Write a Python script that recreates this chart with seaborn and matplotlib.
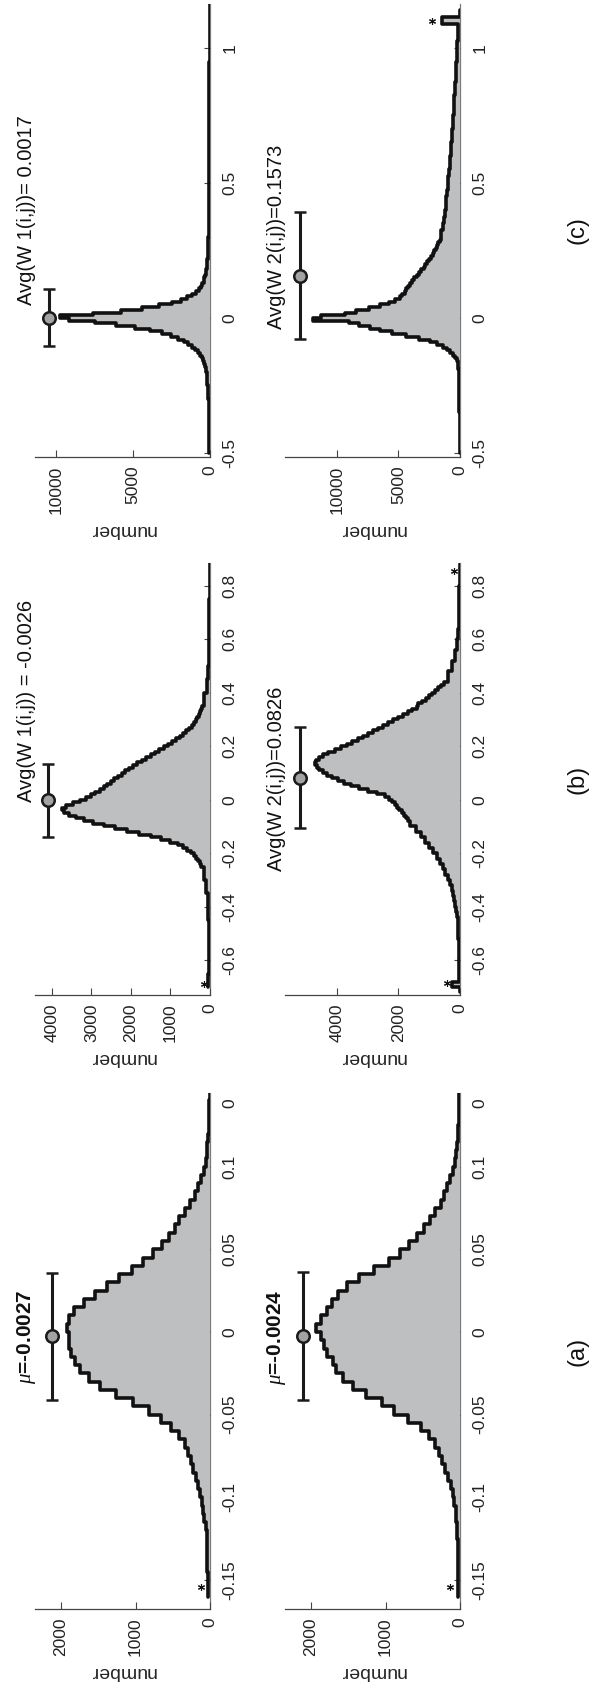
import numpy as np
import pandas as pd
import matplotlib
matplotlib.use("Agg")
import matplotlib.pyplot as plt
import matplotlib.transforms as mtrans
import seaborn as sns

# ---------------------------------------------------------------- data
# bin layouts: list of (start, stop, bin width) segments
a_bins = [(-0.16, 0.145, 0.005)]
a1_counts = [25, 30, 30, 35, 35, 40, 40, 45, 60, 75, 95, 110, 135, 160, 190,
             225, 255, 290, 340, 420, 520, 660, 820, 1040, 1260, 1480, 1630,
             1750, 1810, 1870, 1900, 1890, 1920, 1890, 1830, 1690, 1540, 1380,
             1220, 1050, 900, 760, 640, 550, 470, 410, 340, 270, 200, 155, 115,
             85, 60, 45, 34, 25, 18, 13, 10, 8, 6]
a2_counts = [25, 25, 25, 28, 30, 30, 32, 35, 40, 50, 60, 75, 100, 125, 160,
             195, 240, 280, 330, 410, 530, 700, 880, 1050, 1260, 1440, 1570,
             1670, 1700, 1790, 1830, 1870, 1930, 1870, 1790, 1720, 1640, 1520,
             1360, 1160, 960, 800, 680, 580, 480, 400, 330, 260, 210, 170, 130,
             95, 70, 50, 38, 30, 25, 20, 18, 15, 12]
a1_title, a2_title = r"$\mu$=-0.0027", r"$\mu$=-0.0024"
a1_mean, a1_sd = -0.0027, 0.0385
a2_mean, a2_sd = -0.0024, 0.0385
a_value_ticks = [-0.15, -0.1, -0.05, 0, 0.05, 0.1]
a_value_labels = ["-0.15", "-0.1", "-0.05", "0", "0.05", "0.1"]
a_count_ticks = [0, 1000, 2000]

b1_bins = [(-0.70, -0.25, 0.05), (-0.25, 0.35, 0.01), (0.35, 0.90, 0.05)]
b1_counts = [40, 20, 22, 26, 32, 42, 60, 95, 160,
             230, 265, 305, 350, 410, 480, 570, 680, 820, 1000, 1230, 1500,
             1800, 2100, 2400, 2680, 2950, 3180, 3400, 3580, 3700, 3740, 3650,
             3480, 3300, 3150, 3020, 2900, 2790, 2690, 2600, 2510, 2420, 2330,
             2240, 2150, 2050, 1950, 1840, 1730, 1620, 1500, 1390, 1280, 1170,
             1060, 960, 860, 770, 680, 600, 525, 455, 400, 360, 325, 290, 255,
             225, 195,
             140, 80, 45, 32, 25, 20, 16, 14, 12, 11, 10]
b2_bins = [(-0.72, -0.68, 0.02), (-0.68, -0.08, 0.02), (-0.08, 0.44, 0.01),
           (0.44, 0.88, 0.04)]
b2_counts = [0, 260,
             25, 27, 29, 31, 34, 37, 41, 45, 51, 58, 68, 80, 97, 120, 148, 180,
             222, 270, 330, 400, 480, 560, 660, 760, 880, 1000, 1140, 1270,
             1440, 1620,
             1700, 1760, 1830, 1900, 1970, 2040, 2120, 2200, 2300, 2450, 2700,
             3000, 3300, 3550, 3780, 3980, 4160, 4320, 4460, 4570, 4660, 4700,
             4680, 4600, 4460, 4280, 4080, 3880, 3690, 3500, 3320, 3150, 2980,
             2820, 2660, 2500, 2340, 2180, 2020, 1860, 1700, 1550, 1400, 1350,
             1230, 1110, 1000, 900, 800, 700, 610, 530,
             400, 250, 150, 90, 55, 38, 28, 22, 17, 14, 12]
b1_title, b2_title = "Avg(W 1(i,j)) = -0.0026", "Avg(W 2(i,j))=0.0826"
b1_mean, b1_sd = -0.0026, 0.135
b2_mean, b2_sd = 0.0826, 0.19
b_value_ticks = [-0.6, -0.4, -0.2, 0, 0.2, 0.4, 0.6, 0.8]
b_value_labels = ["-0.6", "-0.4", "-0.2", "0", "0.2", "0.4", "0.6", "0.8"]
b1_count_ticks = [0, 1000, 2000, 3000, 4000]
b2_count_ticks = [0, 2000, 4000]

c1_bins = [(-0.5, -0.2, 0.05), (-0.2, 0.3, 0.01), (0.3, 1.2, 0.05)]
c1_counts = [57, 64, 72, 90, 120, 190,
             250, 280, 320, 380, 450, 540, 650, 790, 960, 1170, 1420, 1720,
             2080, 2550, 3150, 3900, 4900, 6100, 7500, 9200, 9800, 7600, 5800,
             4400, 3300, 2500, 1900, 1480, 1160, 920, 740, 600, 500, 420, 360,
             315, 280, 250, 225, 205, 188, 173, 160, 148, 138, 129, 121, 114,
             107, 101,
             90, 80, 72, 65, 59, 54, 50, 46, 43, 40, 38, 36, 33, 31, 29, 27, 26,
             25]
c2_bins = [(-0.5, -0.2, 0.05), (-0.2, 0.3, 0.01), (0.3, 1.05, 0.025),
           (1.05, 1.09, 0.04), (1.09, 1.14, 0.025)]
c2_counts = [30, 33, 37, 45, 60, 85,
             110, 130, 160, 200, 280, 400, 560, 780, 1050, 1400, 1850, 2450,
             3300, 4400, 5500, 6500, 7300, 8200, 9000, 11900, 11300, 9300, 8400,
             7400, 6500, 5800, 5300, 4900, 4700, 4500, 4350, 4200, 4050, 3900,
             3700, 3500, 3300, 3150, 2950, 2800, 2650, 2500, 2350, 2200, 2080,
             1960, 1850, 1750, 1660, 1580,
             1510, 1400, 1310, 1230, 1160, 1100, 1040, 985, 935, 885, 840, 795,
             750, 705, 665, 625, 585, 550, 515, 480, 450, 420, 390, 360, 330,
             300, 270, 245, 220, 200,
             170,
             1500, 0]
c1_title, c2_title = "Avg(W 1(i,j))= 0.0017", "Avg(W 2(i,j))=0.1573"
c1_mean, c1_sd = 0.0017, 0.105
c2_mean, c2_sd = 0.1573, 0.235
c_value_ticks = [-0.5, 0, 0.5, 1]
c_value_labels = ["-0.5", "0", "0.5", "1"]
c_count_ticks = [0, 5000, 10000]

# outlier markers (*) : value, count
a1_star_values, a1_star_counts = [-0.1545], [120]
a2_star_values, a2_star_counts = [-0.1545], [130]
b1_star_values, b1_star_counts = [-0.69], [150]
b2_star_values, b2_star_counts = [-0.685, 0.855], [420, 200]
c2_star_values, c2_star_counts = [1.10], [2300]

panel_labels = ["(a)", "(b)", "(c)"]

# ---------------------------------------------------------------- style
sns.set_style("white")
plt.rcParams["font.family"] = ["Liberation Sans", "DejaVu Sans"]
plt.rcParams["mathtext.fontset"] = "custom"
plt.rcParams["mathtext.it"] = "Liberation Serif:italic"
plt.rcParams["mathtext.rm"] = "Liberation Sans"
plt.rcParams["mathtext.bf"] = "Liberation Sans:bold"

FILL = "#bebfc1"
W, H = 590, 1700
fig = plt.figure(figsize=(W / 100, H / 100), dpi=100)
fig.patch.set_facecolor("white")

COLS = [(35, 210), (285, 460)]
ROWS = {"c": (4, 457), "b": (563, 995), "a": (1093, 1609)}


def add_ax(col, row):
    x0, x1 = COLS[col]
    yt, yb = ROWS[row]
    return fig.add_axes([x0 / W, 1 - yb / H, (x1 - x0) / W, (yb - yt) / H])


def make_edges(segments):
    parts = []
    for a, b, w in segments:
        n = int(round((b - a) / w))
        parts.append(np.linspace(a, b, n + 1))
    return np.unique(np.round(np.concatenate(parts), 6))


def draw(ax, segments, counts, ylim, vticks, vlabels, xmax, cticks,
         title, title_y, bold, mean, sd, eb_x, star_v=(), star_c=(),
         title_size=14.5):
    edges = make_edges(segments)
    assert len(edges) == len(counts) + 1, (len(edges), len(counts))
    df = pd.DataFrame({"value": (edges[:-1] + edges[1:]) / 2, "n": counts})
    bins = [float(e) for e in edges]
    sns.histplot(data=df, y="value", weights="n", bins=bins, element="step",
                 fill=True, color=FILL, alpha=1, linewidth=0, ax=ax)
    sns.histplot(data=df, y="value", weights="n", bins=bins, element="step",
                 fill=False, color="#111111", linewidth=2.6, ax=ax)
    ax.set_xlim(xmax, 0)
    ax.set_ylim(*ylim)
    ax.set_ylabel("")
    ax.set_xlabel("number", rotation=180, fontsize=14, labelpad=5)
    for s in ("top", "left"):
        ax.spines[s].set_visible(False)
    ax.spines["right"].set_color("#7a7a7a")
    ax.spines["right"].set_linewidth(0.9)
    ax.spines["right"].set_zorder(0.5)
    ax.spines["bottom"].set_color("#444444")
    ax.spines["bottom"].set_linewidth(0.9)

    ax.yaxis.tick_right()
    ax.set_yticks(vticks)
    ax.set_yticklabels(vlabels)
    ax.tick_params(axis="y", right=True, left=False, direction="in", length=4,
                   width=0.8, color="#444444", pad=9, labelsize=12.5,
                   labelrotation=90, labelcolor="#222222")
    for lb in ax.get_yticklabels():
        lb.set_va("center")
        lb.set_ha("left")
    ax.set_xticks(cticks)
    ax.set_xticklabels([str(t) for t in cticks])
    ax.tick_params(axis="x", bottom=True, direction="in", length=5, width=0.8,
                   color="#444444", pad=6, labelsize=12.5, labelrotation=90,
                   labelcolor="#222222")
    for lb in ax.get_xticklabels():
        lb.set_ha("center")
        lb.set_va("top")

    ax.errorbar([eb_x], [mean], yerr=[sd], fmt="o", color="#1a1a1a",
                elinewidth=2.2, capsize=4, capthick=2.2, markersize=9,
                markerfacecolor="#a3a3a3", markeredgecolor="#1a1a1a",
                markeredgewidth=1.8, zorder=5, clip_on=False)
    if len(star_v):
        ax.plot(star_c, star_v, linestyle="none", marker=(6, 2, 0),
                markersize=5, color="#111111", markeredgewidth=0.8, zorder=6)
    tr = mtrans.blended_transform_factory(ax.transAxes, ax.transData)
    ax.text(-0.05, title_y, title, transform=tr, rotation=90, ha="center",
            va="center", fontsize=title_size,
            fontweight="bold" if bold else "normal", color="#111111")


# panel (a)
ax = add_ax(0, "a")
draw(ax, a_bins, a1_counts, (-0.1675, 0.1445), a_value_ticks + [0.1385],
     a_value_labels + ["0"], 2350, a_count_ticks, a1_title, -0.003, True,
     a1_mean, a1_sd, 2120, a1_star_values, a1_star_counts, title_size=15)
ax.yaxis.get_major_ticks()[-1].tick2line.set_visible(False)
ax = add_ax(1, "a")
draw(ax, a_bins, a2_counts, (-0.1675, 0.1445), a_value_ticks + [0.1385],
     a_value_labels + ["0"], 2350, a_count_ticks, a2_title, -0.003, True,
     a2_mean, a2_sd, 2110, a2_star_values, a2_star_counts, title_size=15)
ax.yaxis.get_major_ticks()[-1].tick2line.set_visible(False)

# panel (b)
ax = add_ax(0, "b")
draw(ax, b1_bins, b1_counts, (-0.73, 0.885), b_value_ticks,
     b_value_labels, 4430, b1_count_ticks, b1_title, 0.37, False,
     b1_mean, b1_sd, 4100, b1_star_values, b1_star_counts)
ax = add_ax(1, "b")
draw(ax, b2_bins, b2_counts, (-0.73, 0.885), b_value_ticks,
     b_value_labels, 5690, b2_count_ticks, b2_title, 0.08, False,
     b2_mean, b2_sd, 5200, b2_star_values, b2_star_counts)

# panel (c)
ax = add_ax(0, "c")
draw(ax, c1_bins, c1_counts, (-0.515, 1.163), c_value_ticks,
     c_value_labels, 11400, c_count_ticks, c1_title, 0.40, False,
     c1_mean, c1_sd, 10500)
ax = add_ax(1, "c")
draw(ax, c2_bins, c2_counts, (-0.515, 1.163), c_value_ticks,
     c_value_labels, 14200, c_count_ticks, c2_title, 0.30, False,
     c2_mean, c2_sd, 13000, c2_star_values, c2_star_counts)

for lab, yc in zip(panel_labels, [1351, 779, 230]):
    fig.text(577 / W, 1 - yc / H, lab, rotation=90, ha="center", va="center",
             fontsize=17, color="#111111")

fig.savefig("out.png", dpi=100, facecolor="white")
